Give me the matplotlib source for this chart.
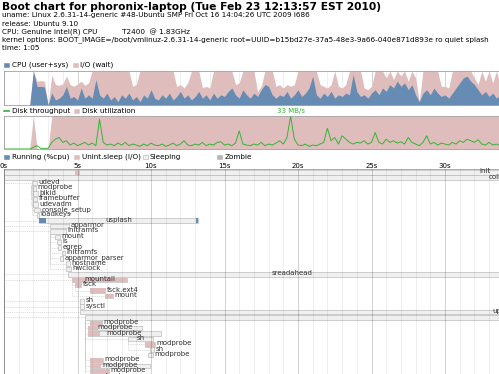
import numpy as np
import matplotlib
matplotlib.use('Agg')
import matplotlib.pyplot as plt
from matplotlib.patches import Rectangle
from matplotlib.transforms import blended_transform_factory

W, H = 499, 374
PX_PER_S = 14.7          # horizontal scale of the chart
ROW_PX = 5.375           # height of one process row

title = "Boot chart for phoronix-laptop (Tue Feb 23 12:13:57 EST 2010)"
header_lines = [
    "uname: Linux 2.6.31-14-generic #48-Ubuntu SMP Fri Oct 16 14:04:26 UTC 2009 i686",
    "release: Ubuntu 9.10",
    "CPU: Genuine Intel(R) CPU           T2400  @ 1.83GHz",
    "kernel options: BOOT_IMAGE=/boot/vmlinuz-2.6.31-14-generic root=UUID=b15bd27e-37a5-48e3-9a66-040e871d893e ro quiet splash",
    "time: 1:05",
]

# samples every 0.25 s
sample_t = np.arange(136) * 0.25
cpu_busy = [0, 0, 0, 0, 0, 0, 0, 0, 1.0, 0.54, 0.55, 0.53, 0.0, 0.35, 0.15, 0.2,
            0.3, 0.55, 0.2, 0.25, 0.15, 0.5, 0.2, 0.3, 0.2, 0.75, 0.3, 0.2, 0.35, 0.15,
            0.25, 0.1, 0.3, 0.2, 0.35, 0.15, 0.25, 0.1, 0.3, 0.2, 0.45, 0.2, 0.15, 0.3,
            0.2, 0.35, 0.15, 0.25, 0.4, 0.2, 0.3, 0.15, 0.25, 0.4, 0.2, 0.3, 0.15, 0.35,
            0.2, 0.3, 0.25, 0.4, 0.5, 0.3, 0.2, 0.45, 0.3, 0.2, 0.35, 0.25, 0.45, 0.6,
            0.55, 0.3, 0.2, 0.3, 0.25, 0.4, 0.2, 0.3, 0.45, 0.25, 0.35, 0.5, 0.85, 0.3,
            0.2, 0.35, 0.25, 0.4, 0.2, 0.3, 0.25, 0.35, 0.3, 0.9, 0.4, 0.25, 0.3, 0.2,
            0.35, 0.45, 0.3, 0.5, 0.4, 0.6, 0.5, 0.7, 0.55, 0.65, 0.45, 0.6, 0.3, 0.1,
            0.35, 0.45, 0.3, 0.5, 0.35, 0.25, 0.3, 0.2, 0.35, 0.5, 0.65, 0.8, 0.85, 0.7,
            0.6, 0.45, 0.3, 0.4, 0.25, 0.35, 0.2, 0.3]
io_wait = [0, 0, 0, 0, 0, 0, 0, 0, 0.0, 0.16, 0.17, 0.17, 0.0, 0.53, 0.45, 0.38,
           0.32, 0.3, 0.4, 0.3, 0.47, 0.2, 0.38, 0.35, 0.8, 0.25, 0.7, 0.8, 0.65, 0.85,
           0.75, 0.9, 0.7, 0.8, 0.65, 0.4, 0.35, 0.9, 0.7, 0.8, 0.55, 0.8, 0.85, 0.7,
           0.8, 0.65, 0.85, 0.3, 0.2, 0.3, 0.35, 0.85, 0.75, 0.6, 0.3, 0.25, 0.35, 0.65,
           0.8, 0.7, 0.75, 0.6, 0.5, 0.3, 0.45, 0.55, 0.7, 0.8, 0.65, 0.15, 0.1, 0.4,
           0.45, 0.7, 0.35, 0.3, 0.25, 0.2, 0.35, 0.3, 0.55, 0.75, 0.65, 0.5, 0.15, 0.7,
           0.4, 0.2, 0.25, 0.2, 0.8, 0.25, 0.25, 0.25, 0.7, 0.1, 0.6, 0.75, 0.2, 0.25,
           0.2, 0.55, 0.7, 0.5, 0.4, 0.4, 0.25, 0.3, 0.3, 0.35, 0.25, 0.4, 0.5, 0.0,
           0.65, 0.55, 0.7, 0.5, 0.65, 0.3, 0.25, 0.3, 0.65, 0.5, 0.35, 0.2, 0.15, 0.3,
           0.2, 0.15, 0.7, 0.3, 0.75, 0.3, 0.8, 0.3]
disk_util = [0, 0, 0, 0, 0, 0, 0, 0, 1.0, 0, 0, 0, 0, 1.0, 1.0, 1.0,
             1.0, 1.0, 1.0, 1.0, 1.0, 1.0, 1.0, 1.0, 1.0, 1.0, 1.0, 1.0, 1.0, 1.0,
             1.0, 1.0, 1.0, 1.0, 1.0, 1.0, 1.0, 1.0, 1.0, 1.0, 1.0, 1.0, 1.0, 1.0,
             1.0, 1.0, 1.0, 1.0, 1.0, 1.0, 1.0, 1.0, 1.0, 1.0, 1.0, 1.0, 1.0, 1.0,
             1.0, 1.0, 1.0, 1.0, 1.0, 1.0, 1.0, 1.0, 1.0, 1.0, 1.0, 1.0, 1.0, 1.0,
             1.0, 1.0, 1.0, 1.0, 1.0, 1.0, 1.0, 1.0, 1.0, 1.0, 1.0, 1.0, 1.0, 1.0,
             1.0, 1.0, 1.0, 1.0, 1.0, 1.0, 1.0, 1.0, 1.0, 1.0, 1.0, 1.0, 1.0, 1.0,
             1.0, 1.0, 1.0, 1.0, 1.0, 1.0, 1.0, 1.0, 1.0, 1.0, 1.0, 1.0, 1.0, 1.0,
             1.0, 1.0, 1.0, 1.0, 1.0, 1.0, 1.0, 1.0, 1.0, 1.0, 1.0, 1.0, 1.0, 1.0,
             1.0, 1.0, 1.0, 1.0, 1.0, 1.0, 1.0, 1.0]
# throughput as a fraction of the peak (33 MB/s)
disk_tput = [0, 0, 0, 0, 0, 0, 0, 0, 0.05, 0.1, 0.02, 0.02, 0.02, 0.2, 0.3, 0.35,
             0.2, 0.25, 0.12, 0.18, 0.1, 0.15, 0.2, 0.12, 0.18, 0.1, 0.9, 0.2, 0.12, 0.15,
             0.1, 0.18, 0.12, 0.2, 0.1, 0.15, 0.12, 0.08, 0.15, 0.1, 0.18, 0.12, 0.1, 0.15,
             0.08, 0.12, 0.18, 0.1, 0.15, 0.25, 0.12, 0.1, 0.15, 0.12, 0.2, 0.1, 0.15, 0.12,
             0.2, 0.22, 0.12, 0.15, 0.1, 0.18, 0.55, 0.15, 0.12, 0.1, 0.15, 0.12, 0.2, 0.1,
             0.15, 0.12, 0.18, 0.25, 0.15, 0.35, 1.0, 0.3, 0.12, 0.1, 0.15, 0.08, 0.12, 0.1,
             0.15, 0.2, 0.63, 0.25, 0.35, 0.15, 0.4, 0.3, 0.2, 0.15, 0.2, 0.18, 0.25, 0.15,
             0.2, 0.5, 0.2, 0.15, 0.3, 0.2, 0.25, 0.18, 0.22, 0.15, 0.35, 0.2, 0.15, 0.1,
             0.2, 0.4, 0.15, 0.2, 0.12, 0.18, 0.15, 0.12, 0.2, 0.15, 0.25, 0.2, 0.3, 0.25,
             0.2, 0.28, 0.15, 0.12, 0.2, 0.12, 0.15, 0.1]
tput_peak_label = "33 MB/s"

# processes: one per row, with the row of the parent (-1: none)
proc_names = ["init", "collector", "udevd", "modprobe", "blkid", "framebuffer", "udevadm",
              "console_setup", "loadkeys", "usplash", "apparmor", "initramfs", "mount", "ls",
              "egrep", "initramfs", "apparmor_parser", "hostname", "hwclock", "sreadahead",
              "mountall", "fsck", "fsck.ext4", "mount", "sh", "sysctl", "upstart-udev-bridge",
              "udevd", "modprobe", "modprobe", "modprobe", "sh", "modprobe", "sh", "modprobe",
              "modprobe", "modprobe", "modprobe", "modprobe"]
proc_start = [0.0, 0.0, 1.9, 1.97, 1.97, 1.97, 1.97, 2.04, 2.25, 2.38, 3.13, 3.13, 3.47, 3.6,
              3.67, 3.95, 3.81, 4.22, 4.22, 4.35, 4.63, 4.83, 5.85, 6.87, 5.17, 5.17, 5.17,
              5.51, 5.85, 5.71, 5.71, 8.44, 9.59, 9.93, 9.8, 5.85, 5.85, 5.85, 5.71]
proc_end = [65.5, 68.0, 2.25, 2.18, 2.31, 2.25, 2.31, 2.45, 2.35, 13.2, 4.42, 4.22, 3.81, 3.88,
            3.88, 4.15, 4.01, 4.49, 4.56, 34.83, 8.37, 5.24, 6.87, 7.41, 5.44, 5.44, 66.0,
            65.0, 6.67, 9.39, 10.68, 10.14, 10.27, 10.2, 10.14, 6.73, 9.93, 7.14, 5.92]
proc_parent = [-1, 0, 0, 2, 2, 2, 2, 2, 2, 0, 0, 0, 11, 11, 11, 11, 11, 11, 11, 0,
               0, 20, 21, 20, 0, 0, 0, 0, 27, 27, 27, 27, 31, 31, 33, 27, 27, 27, 27]
# uninterruptible sleep (I/O) periods
io_rows = [0, 20, 21, 22, 23, 28, 29, 30, 35, 36, 37, 38, 32]
io_start = [4.83, 4.63, 4.83, 5.85, 6.87, 5.85, 5.71, 5.71, 5.85, 5.85, 5.85, 5.71, 9.59]
io_end = [5.17, 8.37, 5.24, 6.87, 7.41, 6.67, 6.4, 6.5, 6.73, 6.6, 7.14, 5.92, 10.27]
# running periods
run_rows = [9, 9]
run_start = [2.38, 13.05]
run_end = [2.86, 13.2]

CPU_C = '#668cb3'
IO_C = '#e0bdbd'
TPUT_C = '#33b533'
SLEEP_C = '#f0f0f0'
ZOMBIE_C = '#b5b5b5'
BORDER_C = '#a1a1a1'
PROC_BORDER_C = '#b5b5b5'
PROC_TEXT_C = '#303030'
DEP_C = '#c4c4c4'

plt.rcParams['font.family'] = 'DejaVu Sans'


def fx(px):
    return px / W


def fy(py):
    return 1 - py / H


fig = plt.figure(figsize=(W / 100, H / 100), dpi=100)
x_max = (W - 4) / PX_PER_S

# header
fig.text(fx(2), fy(7), title, fontsize=7.7, fontweight='bold', va='center', ha='left')
for i, line in enumerate(header_lines):
    fig.text(fx(2), fy(15.5 + i * 8.2), line, fontsize=5.2, va='center', ha='left')


def legend_box(x, yc, color, size=4.5):
    fig.add_artist(Rectangle((fx(x), fy(yc + size / 2)), size / W, size / H,
                             transform=fig.transFigure, facecolor=color,
                             edgecolor='#b0b0b0' if color == SLEEP_C else color, lw=0.4))


def legend_text(x, yc, s):
    fig.text(fx(x), fy(yc), s, fontsize=5.2, va='center', ha='left')


def draw_grid(ax, z):
    for s in range(0, int(x_max) + 1):
        ax.axvline(s, color='black', alpha=0.25 if s % 5 == 0 else 0.09, lw=0.5, zorder=z)


def style_box(ax):
    ax.set_xticks([])
    ax.set_yticks([])
    for side in ['top', 'left', 'bottom']:
        ax.spines[side].set_color(BORDER_C)
        ax.spines[side].set_linewidth(0.6)
    ax.spines['right'].set_visible(False)


# CPU chart
legend_box(4, 65, CPU_C)
legend_text(12.5, 65, "CPU (user+sys)")
legend_box(73, 65, IO_C)
legend_text(80.5, 65, "I/O (wait)")

ax_cpu = fig.add_axes([fx(4), fy(105), fx(W) - fx(4), (105 - 71) / H])
cpu_arr = np.array(cpu_busy)
io_arr = np.array(io_wait)
draw_grid(ax_cpu, 0)
ax_cpu.fill_between(sample_t, 0, cpu_arr + io_arr, color=IO_C, lw=0, zorder=1)
ax_cpu.fill_between(sample_t, 0, cpu_arr, color=CPU_C, lw=0, zorder=2)
ax_cpu.set_xlim(0, x_max)
ax_cpu.set_ylim(0, 1)
style_box(ax_cpu)

# disk chart
fig.add_artist(plt.Line2D([fx(4), fx(9)], [fy(111), fy(111)], transform=fig.transFigure,
                          color=TPUT_C, lw=1.2))
legend_text(12.5, 111, "Disk throughput")
legend_box(74, 111, IO_C)
legend_text(82.5, 111, "Disk utilization")

ax_disk = fig.add_axes([fx(4), fy(149), fx(W) - fx(4), (149 - 116) / H])
draw_grid(ax_disk, 0)
ax_disk.fill_between(sample_t, 0, disk_util, color=IO_C, lw=0, zorder=1)
ax_disk.plot(sample_t, disk_tput, color=TPUT_C, lw=0.7, zorder=2)
peak = int(np.argmax(disk_tput))
ax_disk.annotate(tput_peak_label, (sample_t[peak], 1.0), xytext=(0, 1.5),
                 textcoords='offset points', ha='center', va='bottom',
                 fontsize=5, color=TPUT_C, annotation_clip=False)
ax_disk.set_xlim(0, x_max)
ax_disk.set_ylim(0, 1)
style_box(ax_disk)

# process chart
legend_box(4, 157, CPU_C)
legend_text(12.5, 157, "Running (%cpu)")
legend_box(74, 157, IO_C)
legend_text(82.5, 157, "Unint.sleep (I/O)")
legend_box(143, 157, SLEEP_C)
legend_text(150, 157, "Sleeping")
legend_box(217, 157, ZOMBIE_C)
legend_text(225, 157, "Zombie")

proc_top = 169.5
ax_proc = fig.add_axes([fx(4), 0, fx(W) - fx(4), fy(proc_top)])
rows_visible = (H - proc_top) / ROW_PX
y_off = -0.5 / ROW_PX
ax_proc.set_xlim(0, x_max)
ax_proc.set_ylim(y_off + rows_visible, y_off)

rows = np.arange(len(proc_names))
starts = np.array(proc_start)
ends = np.array(proc_end)
bar_h = 0.85

# dashed lines from each process back to its parent
for r, p in enumerate(proc_parent):
    if p < 0:
        continue
    ps, cs = proc_start[p], proc_start[r]
    if (cs - ps) * PX_PER_S < 2:
        lx = ps - 1.2 / PX_PER_S
        top_y = p + 0.7
    else:
        lx = ps
        top_y = p + bar_h
    ax_proc.plot([cs, lx, lx], [r + bar_h / 2, r + bar_h / 2, top_y], color=DEP_C,
                 lw=0.45, ls=(0, (1.5, 1.5)), zorder=1)

ax_proc.barh(rows, ends - starts, left=starts, height=bar_h, align='edge',
             color=SLEEP_C, edgecolor=PROC_BORDER_C, lw=0.45, zorder=2)
ax_proc.barh(io_rows, np.array(io_end) - np.array(io_start), left=io_start, height=bar_h,
             align='edge', color=IO_C, lw=0, zorder=2.5)
ax_proc.barh(run_rows, np.array(run_end) - np.array(run_start), left=run_start, height=bar_h,
             align='edge', color=CPU_C, lw=0, zorder=2.5)
draw_grid(ax_proc, 3)
style_box(ax_proc)
ax_proc.spines['bottom'].set_visible(False)

# labels: centred in the bar when they fit, otherwise right after it
renderer = fig.canvas.get_renderer()
for r, name, s, e in zip(rows, proc_names, proc_start, proc_end):
    txt = ax_proc.text(s, r + 0.62, name, fontsize=5, color=PROC_TEXT_C,
                       ha='left', va='baseline', zorder=4, clip_on=False)
    w_px = txt.get_window_extent(renderer).width
    bar_px = (e - s) * PX_PER_S
    if w_px + 3.6 > bar_px:
        txt.set_x(e + 1.6 / PX_PER_S)
    else:
        txt.set_x((s + e) / 2 - w_px / 2 / PX_PER_S)

# time labels
tick_tr = blended_transform_factory(ax_proc.transData, fig.transFigure)
for s in range(0, int(x_max) + 1, 5):
    ax_proc.text(s, fy(165.5), "%ds" % s, transform=tick_tr, fontsize=5,
                 ha='center', va='center', clip_on=False)

fig.savefig('out.png', dpi=100)
